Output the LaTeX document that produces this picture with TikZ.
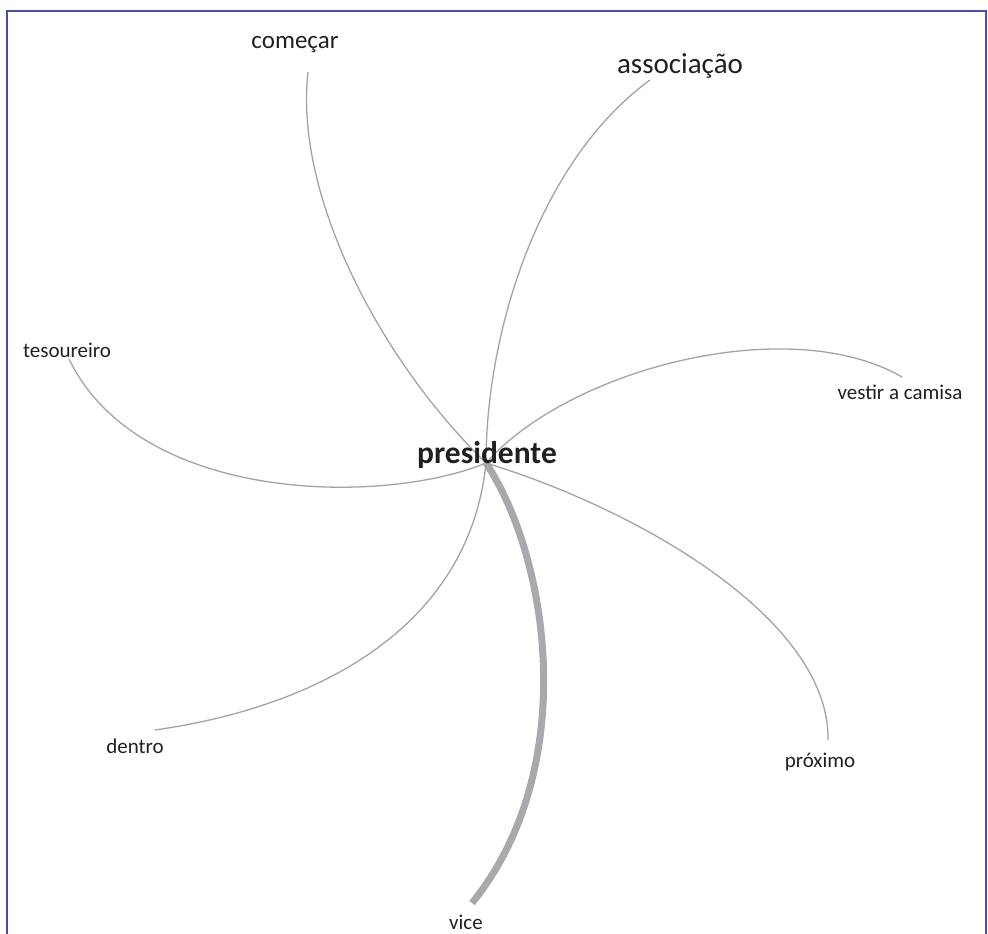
\documentclass[tikz,border=0pt]{standalone}
\usepackage{fontspec}
\setmainfont{Carlito}
\usepackage{tikz}
\usetikzlibrary{positioning}
\definecolor{framecol}{HTML}{4A4FA0}
\definecolor{linkcol}{HTML}{A3A3A3}
\definecolor{strongcol}{HTML}{A7A9AC}
\definecolor{wordcol}{HTML}{231F20}
\tikzset{
  link/.style={draw=linkcol,line width=1.3pt},
  stronglink/.style={draw=strongcol,line width=7pt},
  word/.style={inner sep=0pt,text=wordcol,font=\fontsize{21}{24}\selectfont},
  every node/.style={font=\small}
}

\begin{document}
\begin{tikzpicture}[x=1pt,y=-1pt]
  \useasboundingbox (0,0) rectangle (988,934);
  \draw[framecol,line width=2.2pt] (7,934) -- (7,11) -- (986,11) -- (986,934);
  % words
  \node[word,font=\fontsize{25}{30}\selectfont] (comecar) at (295,45) {começar};
  \node[word,font=\fontsize{29}{33}\selectfont] (assoc) at (680,66) {associação};
  \node[word] (tesou) at (67,350) {tesoureiro};
  \node[word] (vestir) at (900,392) {vestir a camisa};
  \node[word] (dentro) at (135,746) {dentro};
  \node[word] (proximo) at (820,762) {próximo};
  \node[word,anchor=base] (vice) at (466,929) {vice};
  % curve ends
  \coordinate (hub) at (486,463);
  \coordinate (comecar-end) at (308,72);
  \coordinate (assoc-end) at (650,80);
  \coordinate (tesou-end) at (69,359);
  \coordinate (vestir-end) at (902,377);
  \coordinate (dentro-end) at (155,730);
  \coordinate (proximo-end) at (828,740);
  \coordinate (vice-end) at (472,903);
  \draw[stronglink] (hub) .. controls (550,560) and (580,770) .. (vice-end);
  \draw[link] (hub) .. controls (380,360) and (294,195) .. (comecar-end);
  \draw[link] (hub) .. controls (486,330) and (540,160) .. (assoc-end);
  \draw[link] (hub) .. controls (385,505) and (140,505) .. (tesou-end);
  \draw[link] (hub) .. controls (570,368) and (790,312) .. (vestir-end);
  \draw[link] (hub) .. controls (640,510) and (830,620) .. (proximo-end);
  \draw[link] (hub) .. controls (470,620) and (330,705) .. (dentro-end);
  \node[inner sep=0pt,anchor=base,text=wordcol,font=\fontsize{31.5}{36}\bfseries\selectfont]
    (pres) at (487,463) {presidente};
\end{tikzpicture}
\end{document}
